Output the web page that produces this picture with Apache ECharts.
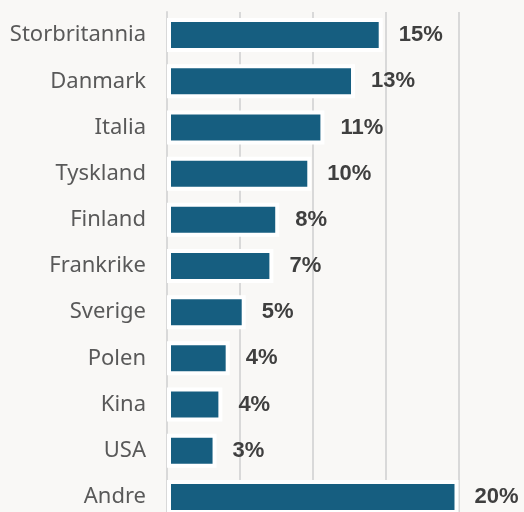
<!DOCTYPE html>
<html>
<head>
    <meta charset="utf-8" />
    <title>Andel per land</title>
    <script src="https://cdn.jsdelivr.net/npm/echarts@6/dist/echarts.min.js"></script>
    <style>
        html, body { margin: 0; padding: 0; background: #f9f8f6; }
    </style>
</head>
<body>
    <div id="main" style="width: 524px;height:512px;"></div>
    <script type="text/javascript">
        // land, ovenfra og ned
        const countries = ['Storbritannia', 'Danmark', 'Italia', 'Tyskland', 'Finland', 'Frankrike',
            'Sverige', 'Polen', 'Kina', 'USA', 'Andre'];
        // andel i prosent (avlest fra stolpene)
        const shares = [14.8, 12.9, 10.8, 9.9, 7.7, 7.3, 5.4, 4.3, 3.8, 3.4, 20.0];
        // etikettene slik de står i figuren
        const shareLabels = ['15%', '13%', '11%', '10%', '8%', '7%', '5%', '4%', '4%', '3%', '20%'];

        let myChart = echarts.init(document.getElementById('main'));

        let option = {
            backgroundColor: '#f9f8f6',
            animation: false,
            grid: {
                left: 167,
                top: 12,
                width: 291.5,
                height: 508,
                containLabel: false,
                outerBoundsMode: 'none'
            },
            xAxis: {
                type: 'value',
                min: 0,
                max: 20,
                interval: 5,
                axisLabel: { show: false },
                axisLine: { show: false },
                axisTick: { show: false },
                splitLine: {
                    lineStyle: { color: '#d9d9d9', width: 2 }
                }
            },
            yAxis: {
                type: 'category',
                inverse: true,
                data: countries,
                axisLine: {
                    lineStyle: { color: '#d9d9d9', width: 2 }
                },
                axisTick: {
                    length: 7,
                    lineStyle: { color: '#d9d9d9', width: 2 }
                },
                axisLabel: {
                    margin: 21,
                    color: '#595959',
                    fontFamily: 'Noto Sans',
                    fontSize: 22
                }
            },
            series: [{
                type: 'bar',
                data: shares,
                barWidth: 34,
                itemStyle: {
                    color: '#165e80',
                    borderColor: '#ffffff',
                    borderWidth: 4
                },
                label: {
                    show: true,
                    position: 'right',
                    distance: 16,
                    color: '#3f3f3f',
                    fontFamily: 'Liberation Sans',
                    fontWeight: 'bold',
                    fontSize: 22,
                    formatter: p => shareLabels[p.dataIndex]
                }
            }]
        };

        myChart.setOption(option);
    </script>
</body>
</html>
